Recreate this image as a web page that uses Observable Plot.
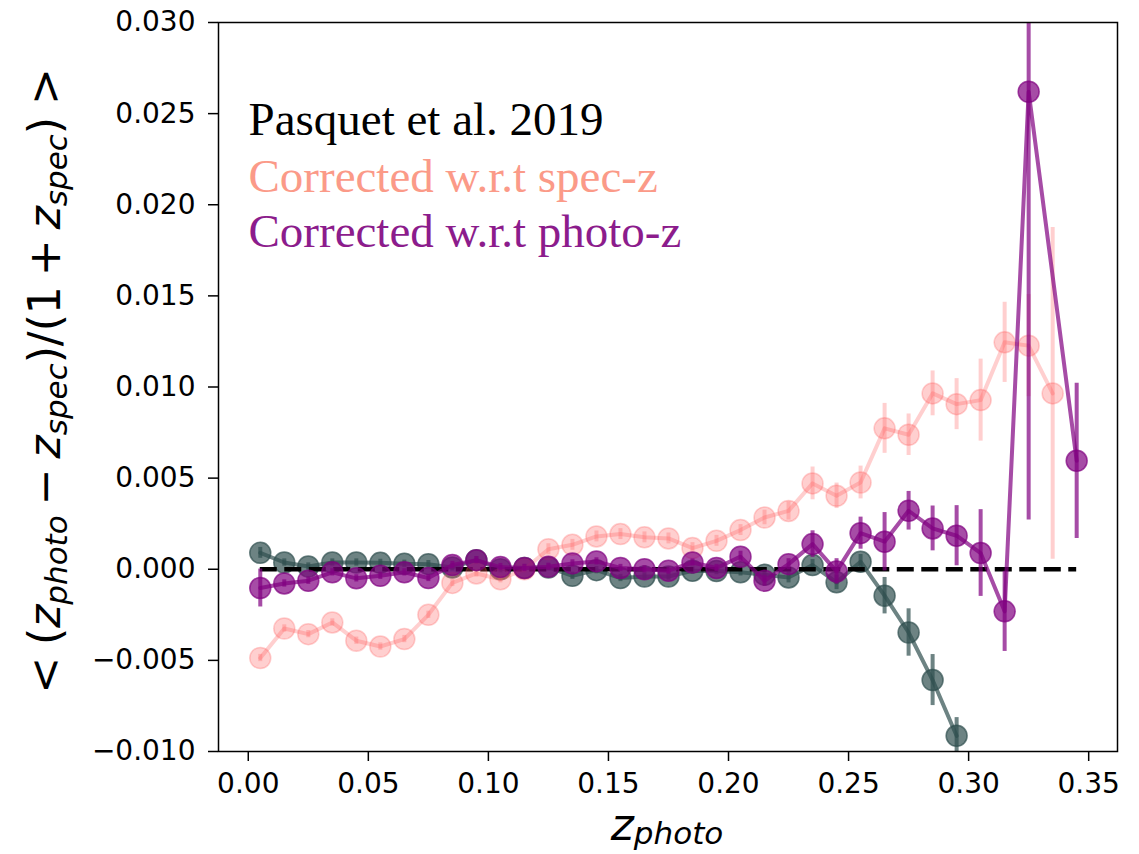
<!DOCTYPE html>
<html>
<head>
<meta charset="utf-8">
<script src="https://cdn.jsdelivr.net/npm/d3@7"></script>
<script src="https://cdn.jsdelivr.net/npm/@observablehq/plot@0.6"></script>
<style>
  html, body { margin: 0; padding: 0; background: white; }
  #chart { width: 1139px; height: 854px; }
</style>
</head>
<body>
<div id="chart"></div>
<script>
// ---- data ----
const zBins = [0.005, 0.015, 0.025, 0.035, 0.045, 0.055, 0.065, 0.075, 0.085, 0.095,
               0.105, 0.115, 0.125, 0.135, 0.145, 0.155, 0.165, 0.175, 0.185, 0.195,
               0.205, 0.215, 0.225, 0.235, 0.245, 0.255, 0.265, 0.275, 0.285, 0.295,
               0.305, 0.315, 0.325, 0.335, 0.345];

// Pasquet et al. 2019 (0.005 .. 0.295)
const pasquet = [0.0009, 0.00037, 0.00015, 0.00037, 0.00037, 0.00035, 0.0003, 0.00028, 0.0001, 0.0005,
                 0.0, 0.00007, 0.0001, -0.00036, -0.00005, -0.00048, -0.0004, -0.0004, -0.00008, -0.0001,
                 -0.00017, -0.0003, -0.00045, 0.00023, -0.00072, 0.00041, -0.00145, -0.00347, -0.00608, -0.00914];
const pasquetErr = [0.0003, 0.0002, 0.0002, 0.0002, 0.0002, 0.0002, 0.0002, 0.0002, 0.0002, 0.0002,
                    0.0002, 0.0002, 0.0002, 0.0002, 0.0002, 0.0002, 0.0002, 0.0002, 0.0002, 0.0002,
                    0.0002, 0.0003, 0.0003, 0.0003, 0.0004, 0.0004, 0.001, 0.0013, 0.0014, 0.001];

// Corrected w.r.t spec-z (0.005 .. 0.335)
const specCorr = [-0.00487, -0.00325, -0.00356, -0.00292, -0.00392, -0.00424, -0.00383, -0.0025, -0.00075, -0.00023,
                  -0.00055, 0.0, 0.0011, 0.00134, 0.0018, 0.00193, 0.00175, 0.00169, 0.00116, 0.00156,
                  0.00215, 0.00284, 0.0032, 0.00471, 0.00403, 0.00476, 0.00773, 0.00738, 0.00965, 0.00906,
                  0.00928, 0.01245, 0.01227, 0.00965];
const specCorrErr = [0.0002, 0.0002, 0.0002, 0.0002, 0.0002, 0.0002, 0.0002, 0.0002, 0.0002, 0.0002,
                     0.0002, 0.0002, 0.0003, 0.0003, 0.0003, 0.0003, 0.0003, 0.0003, 0.0003, 0.0003,
                     0.0003, 0.0004, 0.0005, 0.0009, 0.0007, 0.0009, 0.00137, 0.00114, 0.00123, 0.0014,
                     0.00225, 0.0022, 0.0028, 0.0091];

// Corrected w.r.t photo-z (0.005 .. 0.345, no value at 0.335)
const photoCorr = [-0.00103, -0.00078, -0.00063, -0.00017, -0.0005, -0.00036, -0.00017, -0.00048, 0.00023, 0.0005,
                   0.00012, 0.00007, 0.00014, 0.00032, 0.00043, 0.00007, 0.0, -0.00008, 0.00037, 0.00007,
                   0.00069, -0.00063, 0.00028, 0.00138, -0.00012, 0.00198, 0.00151, 0.00321, 0.00224, 0.00184,
                   0.00089, -0.00231, 0.0262, null, 0.00595];
const photoCorrErr = [0.00104, 0.0002, 0.0002, 0.0002, 0.0002, 0.0002, 0.0002, 0.0002, 0.0002, 0.0002,
                      0.0002, 0.0002, 0.0002, 0.0002, 0.0002, 0.0002, 0.0002, 0.0002, 0.0002, 0.0002,
                      0.0003, 0.0003, 0.0003, 0.00073, 0.0007, 0.00088, 0.0016, 0.00106, 0.00123, 0.00165,
                      0.00238, 0.0022, 0.0235, null, 0.00426];

const xTicks = [0.00, 0.05, 0.10, 0.15, 0.20, 0.25, 0.30, 0.35];
const yTicks = [-0.010, -0.005, 0.000, 0.005, 0.010, 0.015, 0.020, 0.025, 0.030];

const legendLabels = ["Pasquet et al. 2019", "Corrected w.r.t spec-z", "Corrected w.r.t photo-z"];

// ---- styles ----
const cDark = "#2f4f4f", cSpec = "#ff6060", cPhoto = "#800080";
const legendColors = ["#000000", "#fb9a88", "#8c1c8c"];

function rows(vals, errs) {
  return zBins.map((z, i) => ({z, v: vals[i], e: errs[i]}))
              .filter(d => d.v != null && d.v !== undefined);
}
const dDark = rows(pasquet, pasquetErr);
const dSpec = rows(specCorr, specCorrErr);
const dPhoto = rows(photoCorr, photoCorrErr);

function series(data, color, alpha) {
  return [
    Plot.ruleX(data, {x: "z", y1: d => d.v - d.e, y2: d => d.v + d.e,
                      stroke: color, strokeOpacity: alpha, strokeWidth: 4, clip: true}),
    Plot.line(data, {x: "z", y: "v", stroke: color, strokeOpacity: alpha, strokeWidth: 4}),
    Plot.dot(data, {x: "z", y: "v", r: 10.5, fill: color, fillOpacity: alpha,
                    stroke: color, strokeOpacity: alpha, strokeWidth: 1.5})
  ];
}

const fmtY = d3.format(".3f");
const fmtX = d3.format(".2f");

const svg = Plot.plot({
  width: 1139,
  height: 854,
  marginLeft: 218,
  marginRight: 22,
  marginTop: 22,
  marginBottom: 103,
  style: {fontFamily: "DejaVu Sans", background: "white", color: "black"},
  x: {domain: [-0.0124, 0.362]},
  y: {domain: [-0.010, 0.030]},
  marks: [
    Plot.axisX({ticks: xTicks, tickFormat: fmtX, tickSize: 10, tickPadding: 12,
                fontSize: 28, label: null, strokeWidth: 1.5}),
    Plot.axisY({ticks: yTicks, tickFormat: fmtY, tickSize: 10, tickPadding: 13,
                fontSize: 28, label: null, strokeWidth: 1.5}),
    ...series(dDark, cDark, 0.7),
    Plot.ruleY([0], {x1: zBins[0], x2: zBins[zBins.length - 1], stroke: "black",
                     strokeWidth: 4.5, strokeDasharray: "17,7.5"}),
    ...series(dSpec, cSpec, 0.3),
    ...series(dPhoto, cPhoto, 0.7),
    Plot.frame({stroke: "black", strokeWidth: 1.5}),
    Plot.text([legendLabels[0]], {frameAnchor: "top-left", text: d => d, dx: 30, dy: 79,
               lineAnchor: "top", textAnchor: "start", fill: legendColors[0],
               fontFamily: "Liberation Serif", fontSize: 47}),
    Plot.text([legendLabels[1]], {frameAnchor: "top-left", text: d => d, dx: 30, dy: 136,
               lineAnchor: "top", textAnchor: "start", fill: legendColors[1],
               fontFamily: "Liberation Serif", fontSize: 47}),
    Plot.text([legendLabels[2]], {frameAnchor: "top-left", text: d => d, dx: 30, dy: 191,
               lineAnchor: "top", textAnchor: "start", fill: legendColors[2],
               fontFamily: "Liberation Serif", fontSize: 47})
  ]
});

// ---- axis labels with math-style subscripts ----
function mathText(parent, parts, attrs, sub) {
  const t = parent.append("text")
    .attr("font-family", "DejaVu Sans")
    .attr("font-size", 44)
    .attr("fill", "black")
    .attr("text-anchor", "middle");
  for (const [k, v] of Object.entries(attrs)) t.attr(k, v);
  let shifted = 0;
  for (const p of parts) {
    const s = t.append("tspan").text(p.t);
    if (p.italic) s.attr("font-style", "italic");
    let dy = 0;
    if (p.sub) { s.attr("font-size", 31); dy = sub - shifted; shifted = sub; }
    else { dy = -shifted; shifted = 0; }
    if (dy) s.attr("dy", dy);
    if (p.dx) s.attr("dx", p.dx);
  }
  return t;
}
const root = d3.select(svg);
mathText(root, [
  {t: "z", italic: true},
  {t: "photo", italic: true, sub: true}
], {x: 667, y: 840}, 4);

mathText(root, [
  {t: "<"},
  {t: "(", dx: 12},
  {t: "z", italic: true},
  {t: "photo", italic: true, sub: true},
  {t: "−", dx: 10},
  {t: "z", italic: true, dx: 10},
  {t: "spec", italic: true, sub: true},
  {t: ")/(1"},
  {t: "+", dx: 10},
  {t: "z", italic: true, dx: 10},
  {t: "spec", italic: true, sub: true},
  {t: ")"},
  {t: ">", dx: 12}
], {transform: "translate(60,381) rotate(-90)"}, 7);

document.getElementById("chart").appendChild(svg);
</script>
</body>
</html>
